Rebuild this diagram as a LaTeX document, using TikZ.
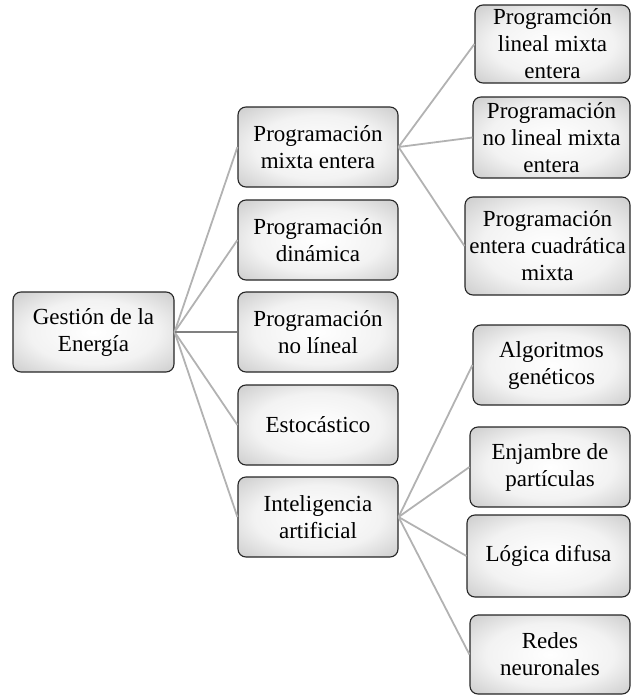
\documentclass[tikz,border=0pt]{standalone}
\usepackage{fontspec}
\setmainfont{Liberation Serif}
\pgfdeclareradialshading{boxshade}{\pgfpoint{0bp}{0bp}}{color(0bp)=(white); color(20bp)=(white!95!black); color(44bp)=(black!28); color(64bp)=(black!48); color(100bp)=(black!50)}
\begin{document}
\begin{tikzpicture}[x=1pt,y=-1pt,
	box/.style={draw=black!85,line width=1.1pt,rounded corners=8pt,shading=boxshade,align=center,inner sep=0pt,font=\fontsize{23}{27}\selectfont},
	link/.style={draw=black!30,line width=1.8pt},
	mainlink/.style={draw=black!50,line width=1.8pt}]
	\useasboundingbox(0,0)rectangle(631,696);
	% raiz
	\node[box,minimum width=161pt,minimum height=80pt](G)at(93.5,332){Gestión de la\\Energía};
	% columna central
	\node[box,minimum width=160pt,minimum height=80pt](M1)at(318,147){Programación\\mixta entera};
	\node[box,minimum width=160pt,minimum height=80pt](M2)at(318,240){Programación\\dinámica};
	\node[box,minimum width=160pt,minimum height=80pt](M3)at(318,332){Programación\\no líneal};
	\node[box,minimum width=160pt,minimum height=80pt](M4)at(318,425){Estocástico};
	\node[box,minimum width=160pt,minimum height=80pt](M5)at(318,517){Inteligencia\\artificial};
	% columna derecha
	\node[box,minimum width=155pt,minimum height=78pt](R1)at(552.5,44){Programción\\lineal mixta\\entera};
	\node[box,minimum width=157pt,minimum height=81pt](R2)at(551.5,137.5){Programación\\no lineal mixta\\entera};
	\node[box,minimum width=165pt,minimum height=98pt](R3)at(547.5,246){Programación\\entera cuadrática\\mixta};
	\node[box,minimum width=157pt,minimum height=80pt](R4)at(551.5,365){Algoritmos\\genéticos};
	\node[box,minimum width=160pt,minimum height=80pt](R5)at(550,467){Enjambre de\\partículas};
	\node[box,minimum width=163pt,minimum height=82pt](R6)at(548.5,556){Lógica difusa};
	\node[box,minimum width=160pt,minimum height=79pt](R7)at(550,654.5){Redes\\neuronales};
	% conectores
	\foreach\m in{M1,M2,M4,M5}{\draw[link](G.east)--(\m.west);}
	\draw[mainlink](G.east)--(M3.west);
	\foreach\r in{R1,R2,R3}{\draw[link](M1.east)--(\r.west);}
	\foreach\r in{R4,R5,R6,R7}{\draw[link](M5.east)--(\r.west);}
\end{tikzpicture}
\end{document}
